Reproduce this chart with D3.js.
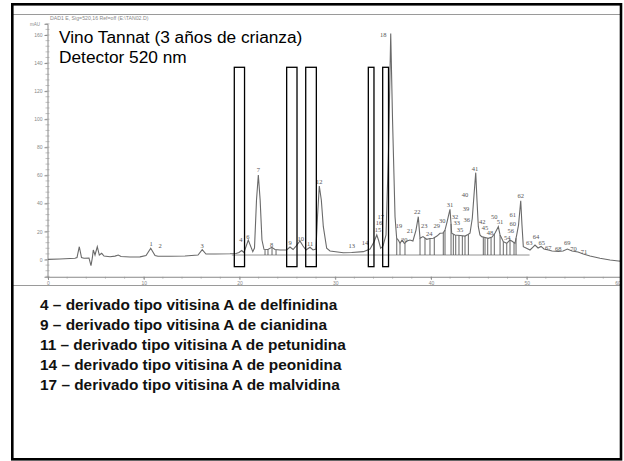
<!DOCTYPE html>
<html>
<head>
<meta charset="utf-8">
<script src="https://cdn.jsdelivr.net/npm/d3@7"></script>
<style>
body { margin: 0; background: #fff; }
svg { display: block; font-family: Arial, "Liberation Sans", sans-serif; }
</style>
</head>
<body>
<svg id="chart"></svg>
<script>
var width = 624;
var height = 461;

var titleLines = ["Vino Tannat (3 años de crianza)", "Detector 520 nm"];
var headerText = "DAD1 E, Sig=520,16 Ref=off (E:\\TAN02.D)";
var noteLines = [
  "4 – derivado tipo vitisina A de delfinidina",
  "9 – derivado tipo vitisina A de cianidina",
  "11 – derivado tipo vitisina A de petunidina",
  "14 – derivado tipo vitisina A de peonidina",
  "17 – derivado tipo vitisina A de malvidina"
];

var xTicks = [0, 10, 20, 30, 40, 50, 60];
var yTicks = [0, 20, 40, 60, 80, 100, 120, 140, 160];

// retention time (min), absorbance (mAU)
var trace = [
  [0, 0.1], [1.25, 0.4], [2.82, 0.9], [3.03, 1.4], [3.27, 9.1], [3.5, 1.4], [3.76, 0.9],
  [4.28, 1.1], [4.49, -4.4], [4.63, 1.1], [4.73, 6.8], [4.91, 3.2], [5.15, 9.1], [5.36, 3.2],
  [5.61, 4.4], [5.85, 2.5], [6.48, 2.0], [7.0, 2.4], [7.34, 3.2], [7.63, 2.1], [8.57, 1.8],
  [9.61, 1.9], [10.24, 2.9], [10.73, 8.0], [11.18, 2.9], [11.49, 2.3], [12.74, 2.3],
  [14.31, 2.5], [15.67, 3.2], [16.11, 7.0], [16.5, 3.9], [17.45, 3.9], [19.01, 4.1],
  [19.64, 4.3], [19.95, 5.0], [20.23, 6.4], [20.47, 5.0], [20.92, 13.9], [21.39, 5.6],
  [21.57, 8.2], [21.78, 42.4], [21.97, 60.2], [22.16, 42.4], [22.35, 13.9], [22.56, 7.3],
  [22.98, 7.1], [23.37, 8.7], [23.71, 7.1], [24.24, 6.8], [24.93, 6.8], [25.28, 8.9],
  [25.6, 7.1], [25.91, 9.6], [26.32, 13.2], [26.64, 9.6], [26.95, 6.8], [27.37, 8.7],
  [27.68, 6.8], [27.99, 7.5], [28.16, 31.7], [28.34, 52.4], [28.55, 42.4], [28.76, 23.4],
  [29.11, 8.0], [29.46, 6.1], [30.85, 4.8], [31.72, 5.0], [32.94, 5.6], [33.64, 7.5],
  [34.05, 12.5], [34.34, 17.5], [34.52, 13.9], [34.75, 8.0], [34.99, 9.6], [35.31, 17.5],
  [35.57, 78.0], [35.8, 161.1], [35.99, 99.4], [36.25, 30.5], [36.42, 15.1], [36.59, 13.9],
  [36.77, 11.5], [36.98, 13.9], [37.22, 11.4], [37.5, 13.2], [37.81, 13.9], [38.12, 13.2],
  [38.44, 21.0], [38.68, 30.5], [38.86, 15.1], [39.17, 16.3], [39.56, 14.4], [39.9, 15.0],
  [40.25, 15.1], [40.63, 16.7], [40.95, 18.7], [41.26, 18.9], [41.47, 21.0], [41.68, 26.7],
  [41.99, 35.8], [42.17, 18.7], [42.51, 17.5], [43.04, 17.1], [43.56, 16.7], [43.87, 17.8],
  [44.08, 18.7], [44.32, 29.4], [44.5, 46.0], [44.68, 61.9], [44.81, 42.4], [44.95, 23.4],
  [45.12, 17.5], [45.3, 16.3], [45.65, 15.7], [45.99, 15.1], [46.38, 16.0], [46.7, 18.9],
  [47.04, 23.4], [47.22, 17.5], [47.39, 15.1], [47.56, 12.7], [47.92, 11.5], [48.26, 13.9],
  [48.52, 12.8], [48.78, 11.5], [48.96, 17.5], [49.15, 24.6], [49.38, 41.9], [49.51, 24.6],
  [49.65, 9.1], [50.04, 7.8], [50.35, 6.8], [50.66, 8.9], [50.87, 10.3], [51.19, 8.2],
  [51.5, 9.3], [51.81, 7.5], [52.26, 6.8], [52.65, 6.1], [53.31, 5.8], [53.8, 6.1],
  [54.25, 7.5], [54.74, 6.1], [55.36, 5.3], [55.92, 3.9], [56.62, 2.5], [57.66, 0.9],
  [58.71, -0.4], [59.58, -1.1], [60, -1.3]
];

var dropTimes = [
  22.67, 22.98, 23.4, 23.82,
  36.43, 36.77, 37.29, 38.86, 39.38, 39.9, 40.35, 41.29, 41.47, 42.1, 42.34, 42.59,
  42.93, 43.28, 43.56, 43.91, 45.47, 45.65, 45.93, 46.28, 46.62, 47.22, 47.56, 47.92,
  48.26, 48.68, 48.89
];
var baselineRange = [19.2, 50.3];
var baselineLevel = 3.2;

var peakLabels = [
  ["1", 10.76, 11.0], ["2", 11.7, 9.6], ["3", 16.09, 9.6], ["4", 20.16, 13.9], ["6", 20.89, 16.0],
  ["7", 21.97, 63.8], ["8", 23.37, 10.3], ["9", 25.28, 11.8], ["10", 26.4, 14.6], ["11", 27.37, 11.0],
  ["12", 28.34, 55.2], ["13", 31.72, 9.6], ["14", 33.11, 11.8], ["15", 34.47, 21.0], ["16", 34.58, 26.0],
  ["17", 34.75, 30.5], ["18", 35.03, 160.0], ["19", 36.67, 23.9], ["20", 37.22, 14.4], ["21", 37.81, 20.3],
  ["22", 38.58, 34.1], ["23", 39.31, 23.9], ["24", 39.83, 18.7], ["29", 40.6, 23.9], ["30", 41.19, 27.4],
  ["31", 41.99, 38.8], ["32", 42.52, 30.5], ["33", 42.69, 26.2], ["35", 43.04, 21.0], ["36", 43.74, 28.2],
  ["39", 43.66, 36.5], ["40", 43.56, 46.5], ["41", 44.6, 65.0], ["42", 45.37, 26.9], ["45", 45.65, 22.7],
  ["48", 46.17, 19.1], ["50", 46.62, 30.5], ["51", 47.22, 26.9], ["54", 47.98, 15.8], ["56", 48.33, 20.5],
  ["60", 48.54, 25.8], ["61", 48.54, 31.7], ["62", 49.38, 45.3], ["63", 50.28, 12.0], ["64", 50.98, 16.3],
  ["65", 51.57, 12.0], ["67", 52.26, 8.7], ["68", 53.31, 7.5], ["69", 54.25, 12.0], ["70", 54.88, 7.5],
  ["71", 55.99, 5.6]
];

// retention-time windows framed in the figure
var boxes = [[19.46, 20.53], [24.93, 26.01], [26.92, 28.03], [33.46, 34.05], [34.96, 35.57]];
var boxRange = [-5.1, 137];

var svg = d3.select('#chart')
    .attr('width', width)
    .attr('height', height);

svg.append('rect')
    .attr('width', width)
    .attr('height', height)
    .attr('fill', '#fff');

var x = d3.scaleLinear()
    .domain([0, 60])
    .range([48, 622.4]);

var y = d3.scaleLinear()
    .domain([-12.3, 168])
    .range([276.76, 23.8]);

svg.append('clipPath')
    .attr('id', 'img')
  .append('rect')
    .attr('x', 13).attr('y', 14)
    .attr('width', 607).attr('height', 271);

var plot = svg.append('g').attr('clip-path', 'url(#img)');

// image edges
plot.append('line').attr('x1', 13).attr('x2', 620).attr('y1', 14.5).attr('y2', 14.5)
    .attr('stroke', '#9a9a9a');
svg.append('line').attr('x1', 13).attr('x2', 620).attr('y1', 285.5).attr('y2', 285.5)
    .attr('stroke', '#9a9a9a');

plot.append('text')
    .attr('x', 50).attr('y', 19.5)
    .attr('font-size', 5.2)
    .attr('fill', '#8a8a8a')
    .text(headerText);

// axes
var yAxis = d3.axisLeft(y).tickValues(yTicks).tickSize(3).tickPadding(2);
var yg = plot.append('g').attr('transform', 'translate(47.5,0)').call(yAxis);
yg.selectAll('path, line').attr('stroke', '#888');
yg.selectAll('text').attr('font-size', 5).attr('fill', '#888').attr('font-family', 'Arial, sans-serif');
plot.selectAll('.yminor')
    .data(d3.range(-12, 169, 4))
    .enter().append('line')
    .attr('x1', 45.5).attr('x2', 49.5)
    .attr('y1', d => y(d)).attr('y2', d => y(d))
    .attr('stroke', '#999').attr('stroke-width', 0.6);
plot.append('text')
    .attr('x', 35).attr('y', 26)
    .attr('text-anchor', 'middle')
    .attr('font-size', 4.5).attr('fill', '#888')
    .text('mAU');

var xAxis = d3.axisBottom(x).tickValues(xTicks).tickSize(3).tickPadding(2).tickFormat(d3.format('d'));
var xg = plot.append('g').attr('transform', 'translate(0,' + y(-12.3) + ')').call(xAxis);
xg.selectAll('path, line').attr('stroke', '#888');
xg.selectAll('text').attr('font-size', 5).attr('fill', '#888').attr('font-family', 'Arial, sans-serif')
    .filter(d => d === 60).attr('text-anchor', 'end').attr('dx', -2);
plot.selectAll('.xminor')
    .data(d3.range(0, 61, 2))
    .enter().append('line')
    .attr('x1', d => x(d)).attr('x2', d => x(d))
    .attr('y1', y(-12.3)).attr('y2', y(-12.3) + 2)
    .attr('stroke', '#999').attr('stroke-width', 0.6);

// integration baseline and drop lines
var bisect = d3.bisector(d => d[0]).left;
function traceAt(t) {
  var i = bisect(trace, t);
  if (i <= 0) return trace[0][1];
  var a = trace[i - 1], b = trace[i];
  return a[1] + (b[1] - a[1]) * (t - a[0]) / (b[0] - a[0]);
}

plot.append('line')
    .attr('x1', x(baselineRange[0])).attr('x2', x(baselineRange[1]))
    .attr('y1', y(baselineLevel)).attr('y2', y(baselineLevel))
    .attr('stroke', '#777').attr('stroke-width', 0.8);

plot.selectAll('.drop')
    .data(dropTimes)
    .enter().append('line')
    .attr('x1', d => x(d)).attr('x2', d => x(d))
    .attr('y1', d => y(traceAt(d))).attr('y2', y(baselineLevel))
    .attr('stroke', '#555').attr('stroke-width', 0.9);

// chromatogram
var line = d3.line()
    .x(d => x(d[0]))
    .y(d => y(d[1]));

plot.append('path')
    .datum(trace)
    .attr('d', line)
    .attr('fill', 'none')
    .attr('stroke', '#6a6a6a')
    .attr('stroke-width', 1.1);

plot.selectAll('.plabel')
    .data(peakLabels)
    .enter().append('text')
    .attr('x', d => x(d[1]))
    .attr('y', d => y(d[2]))
    .attr('dy', '0.35em')
    .attr('text-anchor', 'middle')
    .attr('font-family', '"Liberation Serif", "DejaVu Serif", serif')
    .attr('font-size', 6.5)
    .attr('fill', '#555')
    .text(d => d[0]);

// framed windows
svg.selectAll('.box')
    .data(boxes)
    .enter().append('rect')
    .attr('x', d => x(d[0]))
    .attr('y', y(boxRange[1]))
    .attr('width', d => x(d[1]) - x(d[0]))
    .attr('height', y(boxRange[0]) - y(boxRange[1]))
    .attr('fill', 'none')
    .attr('stroke', '#000')
    .attr('stroke-width', 1.3);

// titles
svg.selectAll('.title')
    .data(titleLines)
    .enter().append('text')
    .attr('x', 59)
    .attr('y', (d, i) => 43 + i * 20)
    .attr('font-size', 17.3)
    .attr('fill', '#000')
    .text(d => d);

svg.selectAll('.note')
    .data(noteLines)
    .enter().append('text')
    .attr('transform', (d, i) => 'translate(40,' + (309.5 + i * 20.2) + ') scale(1.1,1)')
    .attr('font-size', 14)
    .attr('font-weight', 'bold')
    .attr('fill', '#111')
    .text(d => d);

// outer frame
svg.append('rect')
    .attr('x', 12.3).attr('y', 4.3)
    .attr('width', 608.7).attr('height', 455)
    .attr('fill', 'none')
    .attr('stroke', '#000')
    .attr('stroke-width', 2.6);
</script>
</body>
</html>
